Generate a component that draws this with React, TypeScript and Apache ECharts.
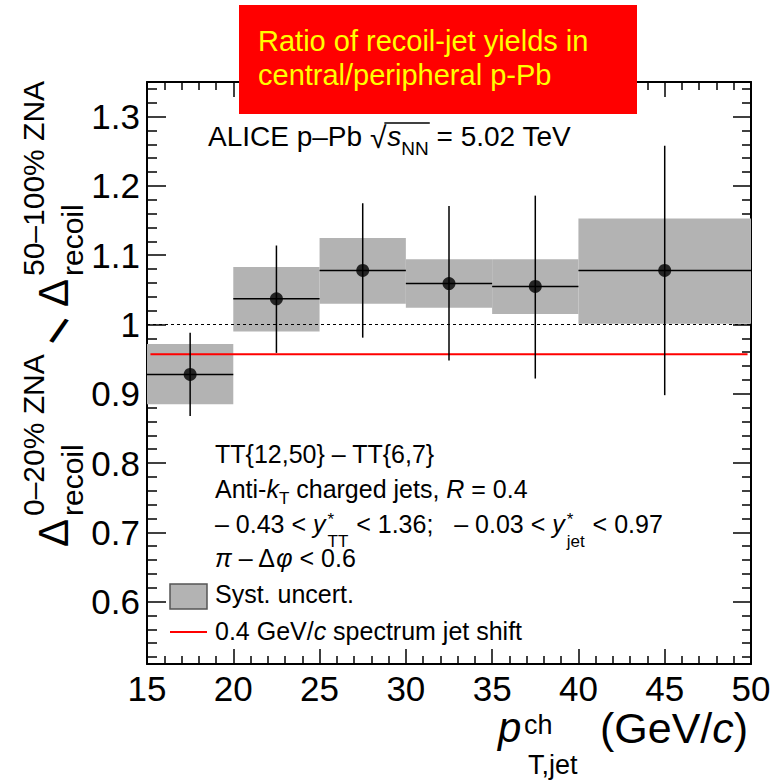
import React, { useEffect, useRef } from 'react';
import * as echarts from 'echarts';

// ---------------- data ----------------
const binLow = [15, 20, 25, 30, 35, 40];
const binHigh = [20, 25, 30, 35, 40, 50];
const binCenter = [17.5, 22.5, 27.5, 32.5, 37.5, 45];
const ratio = [0.928, 1.037, 1.078, 1.059, 1.055, 1.078];
const statLow = [0.868, 0.959, 0.981, 0.948, 0.922, 0.898];
const statHigh = [0.988, 1.114, 1.175, 1.171, 1.186, 1.258];
const sysLow = [0.885, 0.99, 1.03, 1.024, 1.015, 1.001];
const sysHigh = [0.972, 1.083, 1.125, 1.094, 1.094, 1.153];
const shiftLevel = 0.957;
const shiftRange = [15.2, 49.8];
const unityLevel = 1;
const xRange = [15, 50];
const xTickStep = 5;
const yRange = [0.51, 1.35];
const yMajorTicks = [0.6, 0.7, 0.8, 0.9, 1.0, 1.1, 1.2, 1.3];
const yMinorTicks = [
  0.52, 0.54, 0.56, 0.58, 0.62, 0.64, 0.66, 0.68, 0.72, 0.74, 0.76, 0.78,
  0.82, 0.84, 0.86, 0.88, 0.92, 0.94, 0.96, 0.98, 1.02, 1.04, 1.06, 1.08,
  1.12, 1.14, 1.16, 1.18, 1.22, 1.24, 1.26, 1.28, 1.32, 1.34,
];

// ---------------- text helpers ----------------
const FF = '"Liberation Sans", Arial, Helvetica, sans-serif';
let mctx: CanvasRenderingContext2D | null = null;
function measure(t: string, size: number, italic?: boolean): number {
  if (!mctx) mctx = document.createElement('canvas').getContext('2d');
  if (!mctx) return t.length * size * 0.5;
  mctx.font = `${italic ? 'italic ' : ''}${size}px ${FF}`;
  return mctx.measureText(t).width;
}
function txt(t: string, x: number, baseline: number, size: number, italic = false, fill = '#000') {
  return {
    type: 'text',
    x,
    y: baseline - 0.3465 * size,
    silent: true,
    style: {
      text: t,
      fontSize: size,
      fontFamily: FF,
      fontStyle: italic ? 'italic' : 'normal',
      fill,
      lineHeight: Math.round(size * 0.85),
      align: 'left',
      verticalAlign: 'middle',
      textAlign: 'left',
      textVerticalAlign: 'middle',
    },
  };
}
type Run = { t: string; s: number; i?: boolean; dy?: number; dx?: number; noAdv?: boolean };
function line(x0: number, baseline: number, runs: Run[], fill = '#000') {
  const els: any[] = [];
  let x = x0;
  let stackW = 0;
  const pos: number[] = [];
  for (const r of runs) {
    const w = measure(r.t, r.s, r.i);
    const px = x + (r.dx || 0);
    pos.push(px, px + w);
    els.push(txt(r.t, px, baseline + (r.dy || 0), r.s, !!r.i, fill));
    if (r.noAdv) stackW = Math.max(stackW, w + (r.dx || 0));
    else {
      x += Math.max(w + (r.dx || 0), stackW);
      stackW = 0;
    }
  }
  return { els, end: x, pos };
}
function rtxt(t: string, cx: number, startY: number, size: number) {
  return {
    type: 'text',
    x: cx,
    y: startY,
    rotation: Math.PI / 2,
    silent: true,
    style: {
      text: t,
      fontSize: size,
      fontFamily: FF,
      fill: '#000',
      lineHeight: Math.round(size * 0.85),
      align: 'left',
      verticalAlign: 'middle',
      textAlign: 'left',
      textVerticalAlign: 'middle',
    },
  };
}

function buildGraphics() {
  const els: any[] = [];
  // red title box
  els.push({ type: 'rect', shape: { x: 239, y: 5, width: 398, height: 109 }, style: { fill: '#ff0000' }, z: 100 });
  const t1 = line(258, 51, [{ t: 'Ratio of recoil-jet yields in', s: 29 }], '#ffff00');
  const t2 = line(258, 85, [{ t: 'central/peripheral p-Pb', s: 29 }], '#ffff00');
  t1.els.concat(t2.els).forEach((e) => els.push({ ...e, z: 101 }));

  // ALICE label
  const al = line(208, 146, [
    { t: 'ALICE p–Pb ', s: 28 },
    { t: '√', s: 30, dy: 2 },
    { t: 's', s: 28, i: true, dx: 1 },
    { t: 'NN', s: 19, dy: 9 },
    { t: ' = 5.02 TeV', s: 28 },
  ]);
  els.push(...al.els);
  els.push({
    type: 'line',
    silent: true,
    shape: { x1: al.pos[3] - 2, y1: 123, x2: al.pos[7] + 1, y2: 123 },
    style: { stroke: '#000', lineWidth: 1.5 },
  });

  // legend / annotation text
  const L = 215;
  els.push(...line(L, 463, [{ t: 'TT{12,50} – TT{6,7}', s: 25 }]).els);
  els.push(
    ...line(L, 498, [
      { t: 'Anti-', s: 25 },
      { t: 'k', s: 25, i: true },
      { t: 'T', s: 17, dy: 6 },
      { t: ' charged jets, ', s: 25 },
      { t: 'R', s: 25, i: true },
      { t: ' = 0.4', s: 25 },
    ]).els
  );
  els.push(
    ...line(L, 533, [
      { t: '– 0.43 < ', s: 25 },
      { t: 'y', s: 25, i: true },
      { t: '*', s: 17, dy: -8, dx: 2, noAdv: true },
      { t: 'TT', s: 17, dy: 14, dx: 2 },
      { t: ' < 1.36;   – 0.03 < ', s: 25, dx: 1 },
      { t: 'y', s: 25, i: true },
      { t: '*', s: 17, dy: -8, dx: 2, noAdv: true },
      { t: 'jet', s: 17, dy: 14, dx: 2 },
      { t: ' < 0.97', s: 25, dx: 1 },
    ]).els
  );
  els.push(
    ...line(L, 567, [
      { t: 'π', s: 25, i: true },
      { t: ' – Δ', s: 25 },
      { t: 'φ', s: 25, i: true },
      { t: ' < 0.6', s: 25 },
    ]).els
  );
  els.push({ type: 'rect', silent: true, shape: { x: 170, y: 584, width: 37, height: 25 }, style: { fill: '#b3b3b3', stroke: '#555', lineWidth: 1.5 } });
  els.push(...line(L, 603, [{ t: 'Syst. uncert.', s: 25 }]).els);
  els.push({ type: 'line', silent: true, shape: { x1: 170, y1: 632, x2: 207, y2: 632 }, style: { stroke: '#ff0000', lineWidth: 2 } });
  els.push(
    ...line(L, 640, [
      { t: '0.4 GeV/', s: 25 },
      { t: 'c', s: 25, i: true },
      { t: ' spectrum jet shift', s: 25 },
    ]).els
  );

  // x-axis title
  els.push(txt('p', 498, 742, 42, true));
  els.push(txt('ch', 524, 734, 27));
  els.push(txt('T,jet', 528, 774, 27));
  els.push(
    ...line(600, 743, [
      { t: '(GeV/', s: 43 },
      { t: 'c', s: 43, i: true },
      { t: ')', s: 43 },
    ]).els
  );

  // y-axis title (rotated)
  els.push(rtxt('Δ', 53, 547, 42));
  els.push(rtxt('recoil', 72, 516, 30));
  els.push(rtxt('0–20% ZNA', 33, 516, 30));
  els.push({
    type: 'text',
    x: 59,
    y: 331,
    rotation: -0.42,
    silent: true,
    style: { text: '/', fontSize: 36, fontWeight: 'bold', fontFamily: FF, fill: '#000', align: 'center', verticalAlign: 'middle', textAlign: 'center', textVerticalAlign: 'middle' },
  });
  els.push(rtxt('Δ', 53, 307, 42));
  els.push(rtxt('recoil', 72, 276, 30));
  els.push(rtxt('50–100% ZNA', 33, 276, 30));
  return els;
}

export default function App() {
  const ref = useRef<HTMLDivElement>(null);
  useEffect(() => {
    if (!ref.current) return;
    const chart = echarts.init(ref.current, undefined, { renderer: 'svg' });
    const black = '#000';
    const frame = { show: true, onZero: false, lineStyle: { color: black, width: 2 } };
    const tickStyle = { color: black, width: 1.5 };
    const xBase = (pos: string, major: number, minor: number, labels: boolean) => ({
      type: 'value',
      position: pos,
      min: xRange[0],
      max: xRange[1],
      interval: xTickStep,
      axisLine: frame,
      axisTick: { show: true, inside: true, length: major, lineStyle: tickStyle },
      minorTick: { show: true, splitNumber: 5, length: minor, lineStyle: tickStyle },
      axisLabel: { show: labels, fontSize: 35, fontFamily: FF, color: black, margin: 7 },
      splitLine: { show: false },
      minorSplitLine: { show: false },
    });
    const yBase = (pos: string, ticks: number[], len: number, labels: boolean, showLine: boolean) => ({
      type: 'value',
      position: pos,
      min: yRange[0],
      max: yRange[1],
      axisLine: showLine ? frame : { show: false },
      axisTick: { show: true, inside: true, length: len, lineStyle: tickStyle, customValues: ticks },
      axisLabel: labels
        ? {
            show: true,
            customValues: yMajorTicks,
            fontSize: 35,
            fontFamily: FF,
            color: black,
            margin: 7,
            formatter: (v: number) => String(Number(v.toFixed(2))),
          }
        : { show: false },
      splitLine: { show: false },
    });

    const option: any = {
      animation: false,
      backgroundColor: '#fff',
      grid: { left: 147, right: 30, top: 82, bottom: 117, containLabel: false, outerBoundsMode: 'none' },
      xAxis: [xBase('bottom', 15, 8, true), xBase('top', 15, 8, false)],
      yAxis: [
        yBase('left', yMajorTicks, 19, true, true),
        yBase('left', yMinorTicks, 10, false, false),
        yBase('right', yMajorTicks, 18, false, true),
        yBase('right', yMinorTicks, 9, false, false),
      ],
      series: [
        {
          type: 'custom',
          name: 'Syst. uncert.',
          xAxisIndex: 0,
          yAxisIndex: 0,
          z: 1,
          data: binLow.map((l, i) => [l, binHigh[i], sysLow[i], sysHigh[i]]),
          encode: { x: [0, 1], y: [2, 3] },
          renderItem: (_p: any, api: any) => {
            const a = api.coord([api.value(0), api.value(3)]);
            const b = api.coord([api.value(1), api.value(2)]);
            return {
              type: 'rect',
              shape: { x: a[0], y: a[1], width: b[0] - a[0], height: b[1] - a[1] },
              style: { fill: '#b3b3b3' },
            };
          },
        },
        {
          type: 'line',
          xAxisIndex: 0,
          yAxisIndex: 0,
          z: 2,
          symbol: 'none',
          data: [
            [xRange[0], unityLevel],
            [xRange[1], unityLevel],
          ],
          lineStyle: { color: black, width: 1, type: [3, 3] },
        },
        {
          type: 'line',
          xAxisIndex: 0,
          yAxisIndex: 0,
          z: 3,
          symbol: 'none',
          data: [
            [shiftRange[0], shiftLevel],
            [shiftRange[1], shiftLevel],
          ],
          lineStyle: { color: '#ff0000', width: 2 },
        },
        {
          type: 'custom',
          xAxisIndex: 0,
          yAxisIndex: 0,
          z: 4,
          data: binCenter.map((c, i) => [c, ratio[i], binLow[i], binHigh[i], statLow[i], statHigh[i]]),
          encode: { x: 0, y: 1 },
          renderItem: (_p: any, api: any) => {
            const y = api.value(1);
            const l = api.coord([api.value(2), y]);
            const r = api.coord([api.value(3), y]);
            const lo = api.coord([api.value(0), api.value(4)]);
            const hi = api.coord([api.value(0), api.value(5)]);
            return {
              type: 'group',
              children: [
                { type: 'line', shape: { x1: l[0], y1: l[1], x2: r[0], y2: r[1] }, style: { stroke: black, lineWidth: 1.5 } },
                { type: 'line', shape: { x1: lo[0], y1: lo[1], x2: hi[0], y2: hi[1] }, style: { stroke: black, lineWidth: 1.5 } },
              ],
            };
          },
        },
        {
          type: 'scatter',
          xAxisIndex: 0,
          yAxisIndex: 0,
          z: 5,
          symbol: 'circle',
          symbolSize: 13,
          itemStyle: { color: black },
          data: binCenter.map((c, i) => [c, ratio[i]]),
        },
      ],
      graphic: { elements: buildGraphics() },
    };
    chart.setOption(option);
    return () => chart.dispose();
  }, []);
  return (
    <div
      ref={ref}
      style={{ position: 'fixed', left: 0, top: 0, width: 781, height: 781, background: '#fff' }}
    />
  );
}
